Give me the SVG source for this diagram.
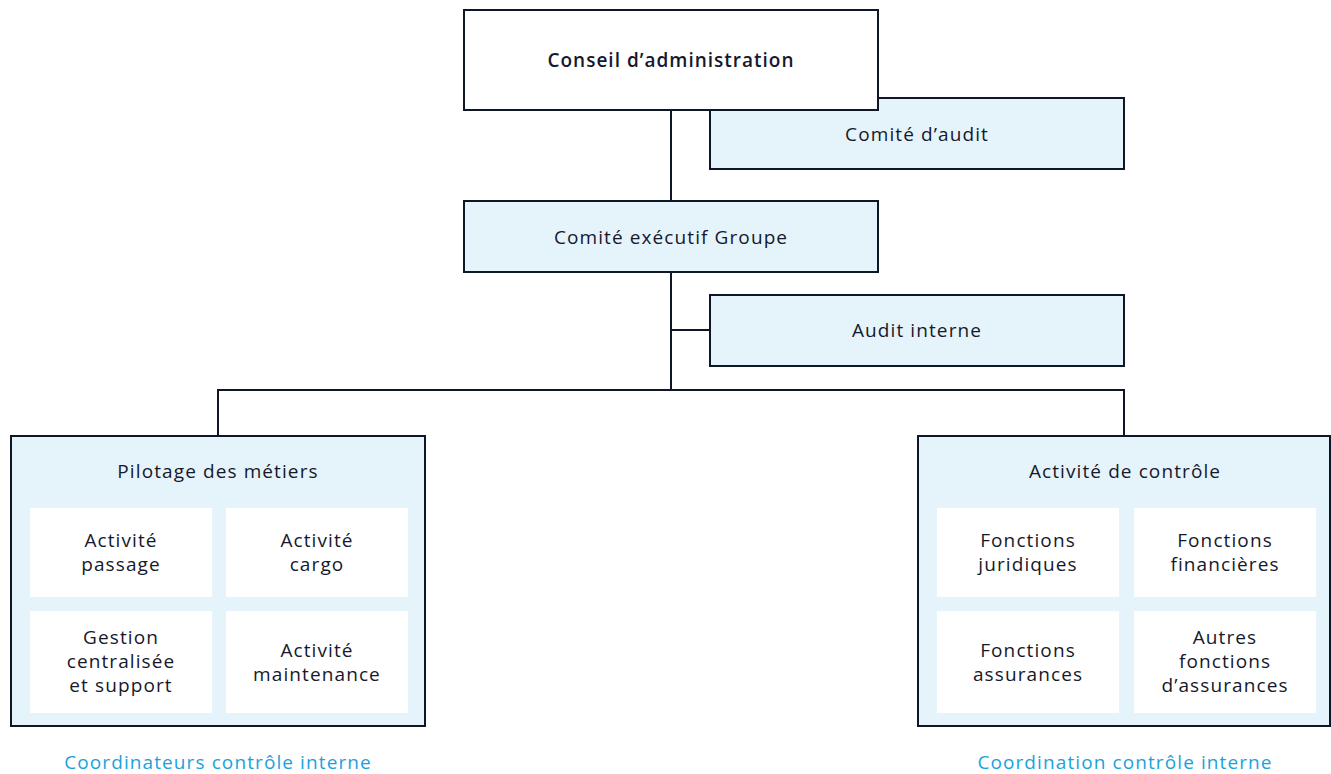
<svg xmlns="http://www.w3.org/2000/svg" width="1331" height="774" viewBox="0 0 1331 774">
<style>
.box{fill:#e5f3fb;stroke:#0e1628;stroke-width:2}
.wbox{fill:#ffffff;stroke:#0e1628;stroke-width:2}
.inner{fill:#ffffff;stroke:none}
.line{stroke:#0e1628;stroke-width:2;fill:none}
text{font-family:"Open Sans","Liberation Sans",sans-serif;font-size:19px;letter-spacing:1.1px;fill:#15192b;text-anchor:middle;dominant-baseline:central}
.bold{font-weight:600;letter-spacing:1px}
.cap{fill:#1aa2dc}
</style>
<rect width="1331" height="774" fill="#ffffff"/>
<g id="connectors">
<path class="line" d="M671 110V390M671 330H710M218 436V390H1124V436"/>
</g>
<g id="audit-comite">
<rect class="box" x="710" y="98" width="414" height="71"/>
<text x="917" y="134">Comité d’audit</text>
</g>
<g id="conseil">
<rect class="wbox" x="464" y="10" width="414" height="100"/>
<text class="bold" x="671" y="60">Conseil d’administration</text>
</g>
<g id="comex">
<rect class="box" x="464" y="201" width="414" height="71"/>
<text x="671" y="237">Comité exécutif Groupe</text>
</g>
<g id="audit-interne">
<rect class="box" x="710" y="295" width="414" height="71"/>
<text x="917" y="330">Audit interne</text>
</g>
<g id="pilotage">
<rect class="box" x="11" y="436" width="414" height="290"/>
<text x="218" y="471">Pilotage des métiers</text>
<rect class="inner" x="30" y="508" width="182" height="89"/>
<text x="121" y="540">Activité</text><text x="121" y="564">passage</text>
<rect class="inner" x="226" y="508" width="182" height="89"/>
<text x="317" y="540">Activité</text><text x="317" y="564">cargo</text>
<rect class="inner" x="30" y="611" width="182" height="102"/>
<text x="121" y="637">Gestion</text><text x="121" y="661">centralisée</text><text x="121" y="685">et support</text>
<rect class="inner" x="226" y="611" width="182" height="102"/>
<text x="317" y="650">Activité</text><text x="317" y="674">maintenance</text>
<text class="cap" x="218" y="762">Coordinateurs contrôle interne</text>
</g>
<g id="controle">
<rect class="box" x="918" y="436" width="412" height="290"/>
<text x="1125" y="471">Activité de contrôle</text>
<rect class="inner" x="937" y="508" width="182" height="89"/>
<text x="1028" y="540">Fonctions</text><text x="1028" y="564">juridiques</text>
<rect class="inner" x="1134" y="508" width="182" height="89"/>
<text x="1225" y="540">Fonctions</text><text x="1225" y="564">financières</text>
<rect class="inner" x="937" y="611" width="182" height="102"/>
<text x="1028" y="650">Fonctions</text><text x="1028" y="674">assurances</text>
<rect class="inner" x="1134" y="611" width="182" height="102"/>
<text x="1225" y="637">Autres</text><text x="1225" y="661">fonctions</text><text x="1225" y="685">d’assurances</text>
<text class="cap" x="1125" y="762">Coordination contrôle interne</text>
</g>
</svg>
